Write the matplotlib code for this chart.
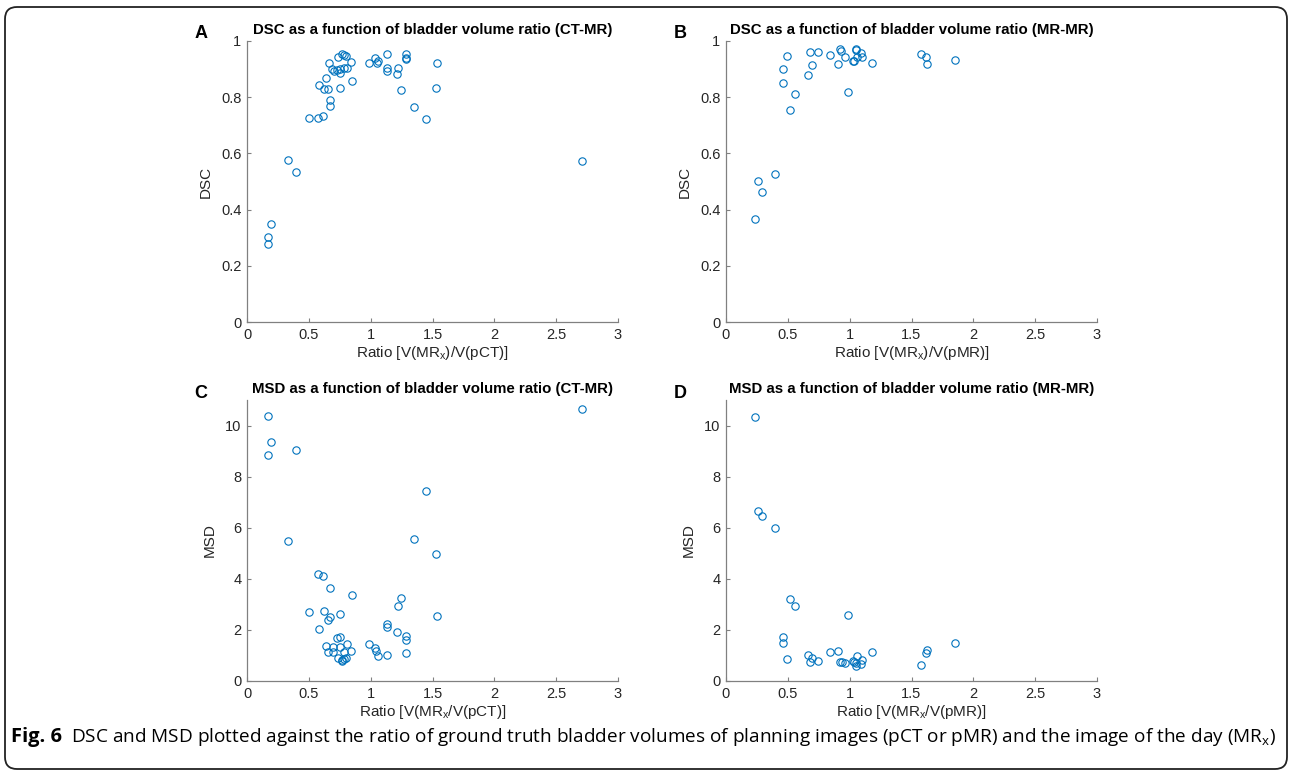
import numpy as np
import matplotlib
matplotlib.use("Agg")
import matplotlib.pyplot as plt
from matplotlib.patches import FancyBboxPatch

plt.rcParams['font.family'] = ['Liberation Sans', 'DejaVu Sans']

# panel A: DSC vs ratio (CT-MR)
ratio_a = [0.167, 0.167, 0.197, 0.334, 0.396, 0.499, 0.571, 0.615, 0.580, 0.623,
           0.658, 0.642, 0.674, 0.671, 0.663, 0.690, 0.701, 0.733, 0.728, 0.749,
           0.755, 0.752, 0.765, 0.782, 0.803, 0.782, 0.811, 0.844, 0.852, 0.989,
           1.038, 1.049, 1.057, 1.132, 1.129, 1.132, 1.224, 1.216, 1.248, 1.286,
           1.286, 1.288, 1.348, 1.447, 1.539, 1.528, 2.712]
dsc_a = [0.279, 0.304, 0.348, 0.578, 0.534, 0.727, 0.726, 0.732, 0.843, 0.830,
         0.828, 0.868, 0.789, 0.767, 0.920, 0.900, 0.893, 0.943, 0.896, 0.886,
         0.902, 0.834, 0.953, 0.949, 0.948, 0.903, 0.903, 0.926, 0.856, 0.923,
         0.939, 0.922, 0.930, 0.954, 0.903, 0.892, 0.904, 0.883, 0.826, 0.954,
         0.939, 0.935, 0.766, 0.721, 0.920, 0.832, 0.572]

# panel B: DSC vs ratio (MR-MR)
ratio_b = [0.237, 0.256, 0.289, 0.397, 0.461, 0.461, 0.496, 0.556, 0.521, 0.664,
           0.682, 0.693, 0.745, 0.839, 0.904, 0.925, 0.933, 0.966, 0.990, 1.028,
           1.036, 1.049, 1.055, 1.060, 1.093, 1.101, 1.182, 1.573, 1.621, 1.627,
           1.851]
dsc_b = [0.367, 0.501, 0.463, 0.528, 0.852, 0.899, 0.948, 0.813, 0.754, 0.880,
         0.960, 0.913, 0.960, 0.950, 0.918, 0.972, 0.963, 0.944, 0.817, 0.928,
         0.930, 0.972, 0.967, 0.944, 0.957, 0.944, 0.922, 0.954, 0.943, 0.919,
         0.931]

# panel C: MSD vs ratio (CT-MR)
ratio_c = [0.167, 0.197, 0.167, 0.396, 0.334, 2.712, 1.447, 1.348, 1.528, 0.571,
           0.615, 0.671, 0.852, 1.248, 1.224, 0.499, 0.625, 0.749, 0.674, 0.658,
           1.539, 0.580, 1.132, 1.132, 1.216, 1.286, 1.288, 0.728, 0.755, 0.642,
           0.695, 0.749, 0.811, 0.989, 1.035, 1.043, 1.057, 0.844, 0.784, 0.658,
           0.695, 1.132, 1.286, 0.733, 0.765, 0.782, 0.803, 0.768]
msd_c = [10.36, 9.36, 8.83, 9.06, 5.49, 10.64, 7.43, 5.55, 4.97, 4.19,
         4.10, 3.65, 3.35, 3.24, 2.92, 2.71, 2.75, 2.62, 2.49, 2.40,
         2.53, 2.03, 2.24, 2.11, 1.90, 1.77, 1.60, 1.68, 1.72, 1.38,
         1.34, 1.32, 1.45, 1.43, 1.28, 1.16, 0.99, 1.16, 1.12, 1.13,
         1.13, 1.03, 1.09, 0.89, 0.81, 0.86, 0.90, 0.77]

# panel D: MSD vs ratio (MR-MR)
ratio_d = [0.237, 0.256, 0.289, 0.397, 0.521, 0.556, 0.990, 0.461, 0.461, 0.496,
           0.664, 0.693, 0.682, 0.745, 0.839, 0.904, 0.925, 0.939, 0.966, 1.028,
           1.036, 1.049, 1.049, 1.060, 1.093, 1.101, 1.182, 1.573, 1.621, 1.627,
           1.851]
msd_d = [10.34, 6.64, 6.46, 5.98, 3.21, 2.94, 2.58, 1.71, 1.50, 0.85,
         1.03, 0.91, 0.74, 0.80, 1.14, 1.19, 0.73, 0.73, 0.70, 0.80,
         0.76, 0.72, 0.59, 0.97, 0.67, 0.84, 1.14, 0.61, 1.08, 1.21,
         1.49]

panels = [
    ("A", ratio_a, dsc_a, "DSC", "DSC as a function of bladder volume ratio (CT-MR)",
     r"Ratio [V(MR$_\mathregular{x}$)/V(pCT)]", (0, 1), [0, 0.2, 0.4, 0.6, 0.8, 1]),
    ("B", ratio_b, dsc_b, "DSC", "DSC as a function of bladder volume ratio (MR-MR)",
     r"Ratio [V(MR$_\mathregular{x}$)/V(pMR)]", (0, 1), [0, 0.2, 0.4, 0.6, 0.8, 1]),
    ("C", ratio_c, msd_c, "MSD", "MSD as a function of bladder volume ratio (CT-MR)",
     r"Ratio [V(MR$_\mathregular{x}$/V(pCT)]", (0, 11), [0, 2, 4, 6, 8, 10]),
    ("D", ratio_d, msd_d, "MSD", "MSD as a function of bladder volume ratio (MR-MR)",
     r"Ratio [V(MR$_\mathregular{x}$/V(pMR)]", (0, 11), [0, 2, 4, 6, 8, 10]),
]

W, H = 1290, 773
fig = plt.figure(figsize=(W / 100, H / 100), dpi=100)

# axes boxes in pixels: left, top
boxes = [(247, 41), (726, 41), (247, 400), (726, 400)]
aw, ah = 371, 281
blue = "#0072BD"
spine_col = "#808080"
txt_col = "#262626"

for (letter, xs, ys, ylab, title, xlab, ylim, yt), (left, top) in zip(panels, boxes):
    ax = fig.add_axes([left / W, 1 - (top + ah) / H, aw / W, ah / H])
    ax.plot(xs, ys, linestyle="none", marker="o", markersize=5.3,
            markerfacecolor="none", markeredgecolor=blue, markeredgewidth=0.8)
    ax.set_xlim(0, 3)
    ax.set_ylim(*ylim)
    ax.set_xticks([0, 0.5, 1, 1.5, 2, 2.5, 3])
    ax.set_xticklabels(["0", "0.5", "1", "1.5", "2", "2.5", "3"])
    ax.set_yticks(yt)
    ax.set_yticklabels([("%g" % v) for v in yt])
    for s in ["top", "right"]:
        ax.spines[s].set_visible(False)
    for s in ["left", "bottom"]:
        ax.spines[s].set_color(spine_col)
        ax.spines[s].set_linewidth(0.9)
    ax.tick_params(direction="in", length=3, width=0.8, color=spine_col,
                   labelcolor=txt_col, labelsize=10.5, pad=4)
    ax.set_title(title, fontsize=10.8, fontweight="bold", pad=5)
    ax.set_xlabel(xlab, fontsize=11, color=txt_col, labelpad=2)
    ax.set_ylabel(ylab, fontsize=11, color=txt_col, labelpad=6)
    fig.text((left - 46) / W, 1 - (top - 7) / H, letter,
             fontsize=13, fontweight="bold", ha="center", va="center")

# rounded border around the figure
border = FancyBboxPatch((0.05, 0.04), 12.82, 7.62,
                        boxstyle="round,pad=0,rounding_size=0.12",
                        transform=fig.dpi_scale_trans, fill=False,
                        edgecolor="#222222", linewidth=1.3)
fig.patches.append(border)

cap_font = ['Open Sans', 'DejaVu Sans']
fig.text(11 / W, 1 - 737 / H, "Fig. 6", fontsize=14.5, fontweight="bold",
         family=cap_font, va="center", ha="left")
fig.text(71 / W, 1 - 737 / H,
         "DSC and MSD plotted against the ratio of ground truth bladder volumes of planning "
         r"images (pCT or pMR) and the image of the day (MR$_\mathregular{x}$)",
         fontsize=13.7, family=cap_font, va="center", ha="left")

fig.savefig("out.png", dpi=100)
